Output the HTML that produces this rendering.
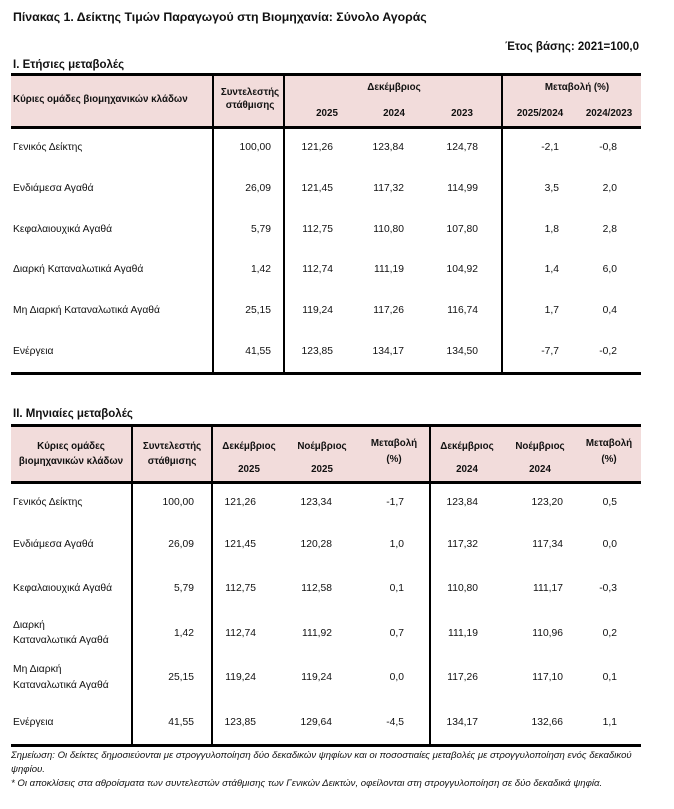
<!DOCTYPE html>
<html><head><meta charset="utf-8"><style>
body{margin:0;width:674px;height:809px;background:#fff;position:relative;overflow:hidden;font-family:"Liberation Sans","Noto Sans CJK SC",sans-serif;font-size:10.3px;color:#111}
div{position:absolute;white-space:nowrap;line-height:12px}
.c{width:120px;text-align:center}
.b{font-weight:bold;font-size:9.8px}
.r{text-align:right}
.bg{background:#f2dcdb}
.hl{background:#000;height:3px}
.vl{background:#000;width:2px}
.f{font-size:9.6px;font-style:italic}
.t{font-weight:bold;font-size:11.5px}
</style></head><body>
<div class="t" style="left:13px;top:11px;font-size:12.3px">Πίνακας 1. Δείκτης Τιμών Παραγωγού στη Βιομηχανία: Σύνολο Αγοράς</div>
<div class="t" style="right:35px;top:41px">Έτος βάσης: 2021=100,0</div>
<div class="t" style="left:13px;top:59px">Ι. Ετήσιες μεταβολές</div>

<!-- Table 1 -->
<div class="bg" style="left:11px;top:74px;width:630px;height:53px"></div>
<div class="hl" style="left:11px;top:73px;width:630px"></div>
<div class="hl" style="left:11px;top:126px;width:630px"></div>
<div class="hl" style="left:11px;top:372px;width:630px"></div>
<div class="vl" style="left:212px;top:76px;height:297px"></div>
<div class="vl" style="left:283px;top:76px;height:297px"></div>
<div class="vl" style="left:501px;top:76px;height:297px"></div>
<div class="b" style="left:13px;top:94px">Κύριες ομάδες βιομηχανικών κλάδων</div>
<div class="b c" style="left:190px;top:87px">Συντελεστής</div>
<div class="b c" style="left:190px;top:100px">στάθμισης</div>
<div class="b c" style="left:334px;top:82px">Δεκέμβριος</div>
<div class="b c" style="left:267px;top:108px">2025</div>
<div class="b c" style="left:334px;top:108px">2024</div>
<div class="b c" style="left:402px;top:108px">2023</div>
<div class="b c" style="left:517px;top:82px">Μεταβολή (%)</div>
<div class="b c" style="left:480px;top:108px">2025/2024</div>
<div class="b c" style="left:549px;top:108px">2024/2023</div>

<div style="left:13px;top:142px">Γενικός Δείκτης</div>
<div style="left:13px;top:183px">Ενδιάμεσα Αγαθά</div>
<div style="left:13px;top:224px">Κεφαλαιουχικά Αγαθά</div>
<div style="left:13px;top:264px">Διαρκή Καταναλωτικά Αγαθά</div>
<div style="left:13px;top:305px">Μη Διαρκή Καταναλωτικά Αγαθά</div>
<div style="left:13px;top:346px">Ενέργεια</div>

<div class="r" style="right:403px;top:142px">100,00</div>
<div class="r" style="right:403px;top:183px">26,09</div>
<div class="r" style="right:403px;top:224px">5,79</div>
<div class="r" style="right:403px;top:264px">1,42</div>
<div class="r" style="right:403px;top:305px">25,15</div>
<div class="r" style="right:403px;top:346px">41,55</div>

<div class="r" style="right:341px;top:142px">121,26</div>
<div class="r" style="right:341px;top:183px">121,45</div>
<div class="r" style="right:341px;top:224px">112,75</div>
<div class="r" style="right:341px;top:264px">112,74</div>
<div class="r" style="right:341px;top:305px">119,24</div>
<div class="r" style="right:341px;top:346px">123,85</div>

<div class="r" style="right:270px;top:142px">123,84</div>
<div class="r" style="right:270px;top:183px">117,32</div>
<div class="r" style="right:270px;top:224px">110,80</div>
<div class="r" style="right:270px;top:264px">111,19</div>
<div class="r" style="right:270px;top:305px">117,26</div>
<div class="r" style="right:270px;top:346px">134,17</div>

<div class="r" style="right:196px;top:142px">124,78</div>
<div class="r" style="right:196px;top:183px">114,99</div>
<div class="r" style="right:196px;top:224px">107,80</div>
<div class="r" style="right:196px;top:264px">104,92</div>
<div class="r" style="right:196px;top:305px">116,74</div>
<div class="r" style="right:196px;top:346px">134,50</div>

<div class="r" style="right:115px;top:142px">-2,1</div>
<div class="r" style="right:115px;top:183px">3,5</div>
<div class="r" style="right:115px;top:224px">1,8</div>
<div class="r" style="right:115px;top:264px">1,4</div>
<div class="r" style="right:115px;top:305px">1,7</div>
<div class="r" style="right:115px;top:346px">-7,7</div>

<div class="r" style="right:57px;top:142px">-0,8</div>
<div class="r" style="right:57px;top:183px">2,0</div>
<div class="r" style="right:57px;top:224px">2,8</div>
<div class="r" style="right:57px;top:264px">6,0</div>
<div class="r" style="right:57px;top:305px">0,4</div>
<div class="r" style="right:57px;top:346px">-0,2</div>

<!-- Table 2 -->
<div class="t" style="left:13px;top:408px">ΙΙ. Μηνιαίες μεταβολές</div>
<div class="bg" style="left:11px;top:426px;width:630px;height:56px"></div>
<div class="hl" style="left:11px;top:424px;width:630px"></div>
<div class="hl" style="left:11px;top:481px;width:630px"></div>
<div class="hl" style="left:11px;top:744px;width:630px"></div>
<div class="vl" style="left:131px;top:427px;height:318px"></div>
<div class="vl" style="left:211px;top:427px;height:318px"></div>
<div class="vl" style="left:429px;top:427px;height:318px"></div>

<div class="b c" style="left:11px;top:441px">Κύριες ομάδες</div>
<div class="b c" style="left:11px;top:456px">βιομηχανικών κλάδων</div>
<div class="b c" style="left:112px;top:441px">Συντελεστής</div>
<div class="b c" style="left:112px;top:456px">στάθμισης</div>
<div class="b c" style="left:189px;top:441px">Δεκέμβριος</div>
<div class="b c" style="left:189px;top:464px">2025</div>
<div class="b c" style="left:262px;top:441px">Νοέμβριος</div>
<div class="b c" style="left:262px;top:464px">2025</div>
<div class="b c" style="left:334px;top:438px">Μεταβολή</div>
<div class="b c" style="left:334px;top:454px">(%)</div>
<div class="b c" style="left:407px;top:441px">Δεκέμβριος</div>
<div class="b c" style="left:407px;top:464px">2024</div>
<div class="b c" style="left:480px;top:441px">Νοέμβριος</div>
<div class="b c" style="left:480px;top:464px">2024</div>
<div class="b c" style="left:549px;top:438px">Μεταβολή</div>
<div class="b c" style="left:549px;top:454px">(%)</div>

<div style="left:13px;top:497px">Γενικός Δείκτης</div>
<div style="left:13px;top:539px">Ενδιάμεσα Αγαθά</div>
<div style="left:13px;top:583px">Κεφαλαιουχικά Αγαθά</div>
<div style="left:13px;top:620px">Διαρκή</div>
<div style="left:13px;top:635px">Καταναλωτικά Αγαθά</div>
<div style="left:13px;top:664px">Μη Διαρκή</div>
<div style="left:13px;top:680px">Καταναλωτικά Αγαθά</div>
<div style="left:13px;top:717px">Ενέργεια</div>

<div class="r" style="right:480px;top:497px">100,00</div>
<div class="r" style="right:480px;top:539px">26,09</div>
<div class="r" style="right:480px;top:583px">5,79</div>
<div class="r" style="right:480px;top:628px">1,42</div>
<div class="r" style="right:480px;top:672px">25,15</div>
<div class="r" style="right:480px;top:717px">41,55</div>

<div class="r" style="right:418px;top:497px">121,26</div>
<div class="r" style="right:418px;top:539px">121,45</div>
<div class="r" style="right:418px;top:583px">112,75</div>
<div class="r" style="right:418px;top:628px">112,74</div>
<div class="r" style="right:418px;top:672px">119,24</div>
<div class="r" style="right:418px;top:717px">123,85</div>

<div class="r" style="right:342px;top:497px">123,34</div>
<div class="r" style="right:342px;top:539px">120,28</div>
<div class="r" style="right:342px;top:583px">112,58</div>
<div class="r" style="right:342px;top:628px">111,92</div>
<div class="r" style="right:342px;top:672px">119,24</div>
<div class="r" style="right:342px;top:717px">129,64</div>

<div class="r" style="right:270px;top:497px">-1,7</div>
<div class="r" style="right:270px;top:539px">1,0</div>
<div class="r" style="right:270px;top:583px">0,1</div>
<div class="r" style="right:270px;top:628px">0,7</div>
<div class="r" style="right:270px;top:672px">0,0</div>
<div class="r" style="right:270px;top:717px">-4,5</div>

<div class="r" style="right:196px;top:497px">123,84</div>
<div class="r" style="right:196px;top:539px">117,32</div>
<div class="r" style="right:196px;top:583px">110,80</div>
<div class="r" style="right:196px;top:628px">111,19</div>
<div class="r" style="right:196px;top:672px">117,26</div>
<div class="r" style="right:196px;top:717px">134,17</div>

<div class="r" style="right:111px;top:497px">123,20</div>
<div class="r" style="right:111px;top:539px">117,34</div>
<div class="r" style="right:111px;top:583px">111,17</div>
<div class="r" style="right:111px;top:628px">110,96</div>
<div class="r" style="right:111px;top:672px">117,10</div>
<div class="r" style="right:111px;top:717px">132,66</div>

<div class="r" style="right:57px;top:497px">0,5</div>
<div class="r" style="right:57px;top:539px">0,0</div>
<div class="r" style="right:57px;top:583px">-0,3</div>
<div class="r" style="right:57px;top:628px">0,2</div>
<div class="r" style="right:57px;top:672px">0,1</div>
<div class="r" style="right:57px;top:717px">1,1</div>

<div class="f" style="left:11px;top:750px">Σημείωση: Οι δείκτες δημοσιεύονται με στρογγυλοποίηση δύο δεκαδικών ψηφίων και οι ποσοστιαίες μεταβολές με στρογγυλοποίηση ενός δεκαδικού</div>
<div class="f" style="left:11px;top:764px">ψηφίου.</div>
<div class="f" style="left:11px;top:778px">* Οι αποκλίσεις στα αθροίσματα των συντελεστών στάθμισης των Γενικών Δεικτών, οφείλονται στη στρογγυλοποίηση σε δύο δεκαδικά ψηφία.</div>
</body></html>
